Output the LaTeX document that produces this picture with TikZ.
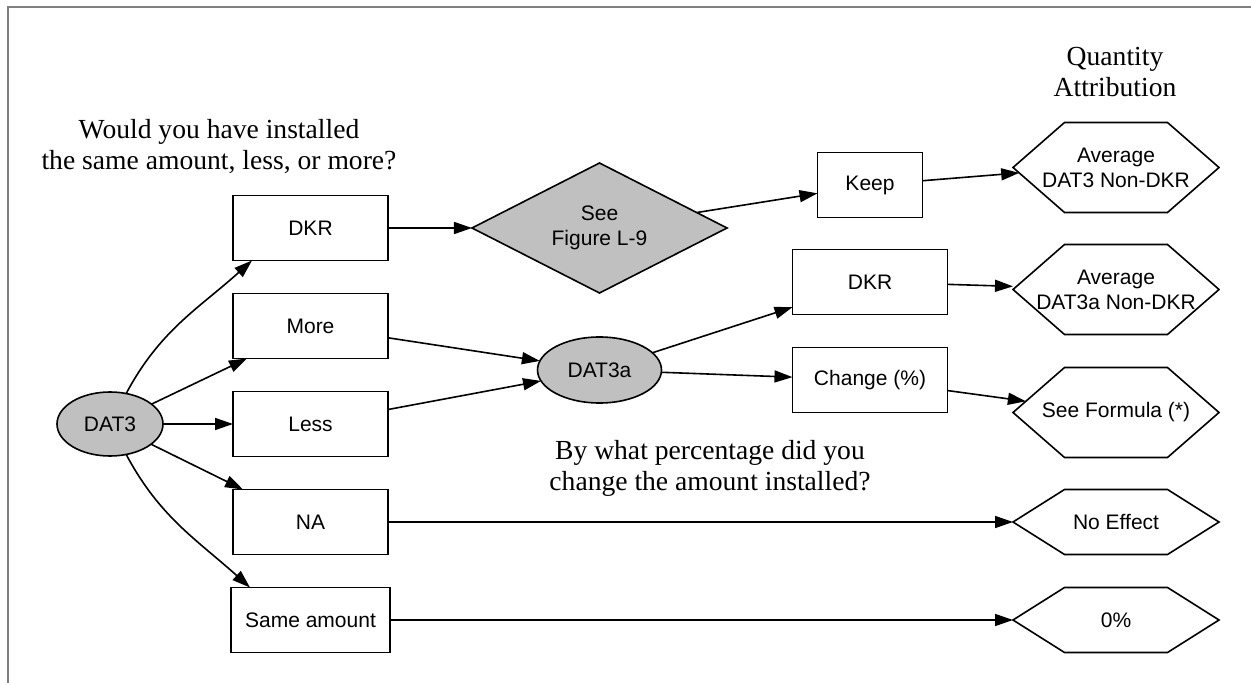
\documentclass[tikz,border=0pt]{standalone}
\usepackage{fontspec}
\setmainfont{Liberation Sans}
\newfontfamily\qfont{Liberation Serif}
\usetikzlibrary{shapes.geometric, arrows.meta, positioning, calc}
\definecolor{nodegray}{RGB}{192,192,192}
\definecolor{framegray}{RGB}{128,128,128}

\begin{document}
\begin{tikzpicture}[x=0.5pt, y=0.5pt, node distance=16.5pt, line width=0.8pt,
        block/.style={draw, rectangle, fill=white, minimum width=77.5pt, minimum height=32.5pt, inner sep=2pt, outer sep=0pt, font=\fontsize{10.5}{12.5}\selectfont},
        cloud/.style={draw, ellipse, fill=nodegray, minimum width=53pt, minimum height=32pt, inner sep=0pt, outer sep=0pt, font=\fontsize{10.5}{12.5}\selectfont},
        decision/.style={draw, diamond, aspect=2, fill=nodegray, minimum width=127.5pt, minimum height=65pt, inner sep=0pt, outer sep=0pt, align=center, font=\fontsize{10.5}{12.5}\selectfont},
        hexa/.style={rectangle, minimum width=103pt, minimum height=45pt, inner sep=0pt, outer sep=0pt, align=center, font=\fontsize{10.5}{12.5}\selectfont},
        hexlow/.style={hexa, minimum height=32.5pt},
        question/.style={font=\qfont\fontsize{13.8}{15.5}\selectfont, align=center},
        line/.style={draw, -{Triangle[length=9pt, width=6pt]}}]

        \useasboundingbox (0,0) rectangle (1251,-683);
        \draw [framegray, line width=1pt] (8,-683) -- (8,-7) -- (1251,-7);

        % 节点定义
        \node [cloud] (dat3) at (110,-424) {DAT3};
        \node [block, right=35pt of dat3] (less) {Less};
        \node [block, above=of less] (more) {More};
        \node [block, above=of more] (dkr) {DKR};
        \node [block, below=of less] (na) {NA};
        \node [block, below=of na, minimum width=79.5pt] (same) {Same amount};
        \node [decision, right=42pt of dkr] (fig) {See\\Figure L-9};
        \node [cloud, below=22pt of fig, minimum width=62pt, minimum height=33pt] (dat3a) {DAT3a};
        \node [block, right=65.5pt of dat3a, yshift=-5pt] (change) {Change (\%)};
        \node [block, above=of change] (dkra) {DKR};
        \node [block, above=16pt of dkra, minimum width=52.5pt] (keep) {Keep};
        \node [hexlow, right=312.5pt of na] (noeff) {No Effect};
        \node [hexlow, below=of noeff] (zero) {0\%};
        \node [hexa, above=16pt of noeff] (formula) {See Formula (*)};
        \node [hexa, above=of formula] (avga) {Average\\DAT3a Non-DKR};
        \node [hexa, above=16pt of avga] (avg) {Average\\DAT3 Non-DKR};

        % 六边形轮廓
        \foreach \h in {avg, avga, formula, noeff, zero}
            \draw (\h.west) -- ([xshift=25.75pt]\h.north west) -- ([xshift=-25.75pt]\h.north east) -- (\h.east)
                -- ([xshift=-25.75pt]\h.south east) -- ([xshift=25.75pt]\h.south west) -- cycle;
        \coordinate (avgin) at ($(avg.west)!0.12!([xshift=25.75pt]avg.south west)$);
        \coordinate (formin) at ($(formula.west)!0.25!([xshift=25.75pt]formula.north west)$);

        % 问题文字
        \node [question] (q1) at (219,-146.5) {Would you have installed\\the same amount, less, or more?};
        \node [question] (q2) at (1115,-72.5) {Quantity\\Attribution};
        \node [question] (q3) at (710,-468.5) {By what percentage did you\\change the amount installed?};

        % 连接线
        \path [line] (dat3) to[out=62, in=-138] ([xshift=9.5pt]dkr.south west);
        \path [line] (dat3) -- ([xshift=7pt]more.south west);
        \path [line] (dat3) -- (less);
        \path [line] (dat3) -- ([xshift=5pt]na.north west);
        \path [line] (dat3) to[out=-62, in=138] ([xshift=9.5pt]same.north west);
        \path [line] (dkr) -- (fig);
        \path [line] (more) -- (dat3a);
        \path [line] (less) -- (dat3a);
        \path [line] (fig) -- (keep);
        \path [line] (keep) -- (avgin);
        \path [line] (dat3a) -- (dkra);
        \path [line] (dat3a) -- (change);
        \path [line] (dkra) -- (avga);
        \path [line] (change) -- (formin);
        \path [line] (na) -- (noeff);
        \path [line] (same) -- (zero);
    \end{tikzpicture}
\end{document}
